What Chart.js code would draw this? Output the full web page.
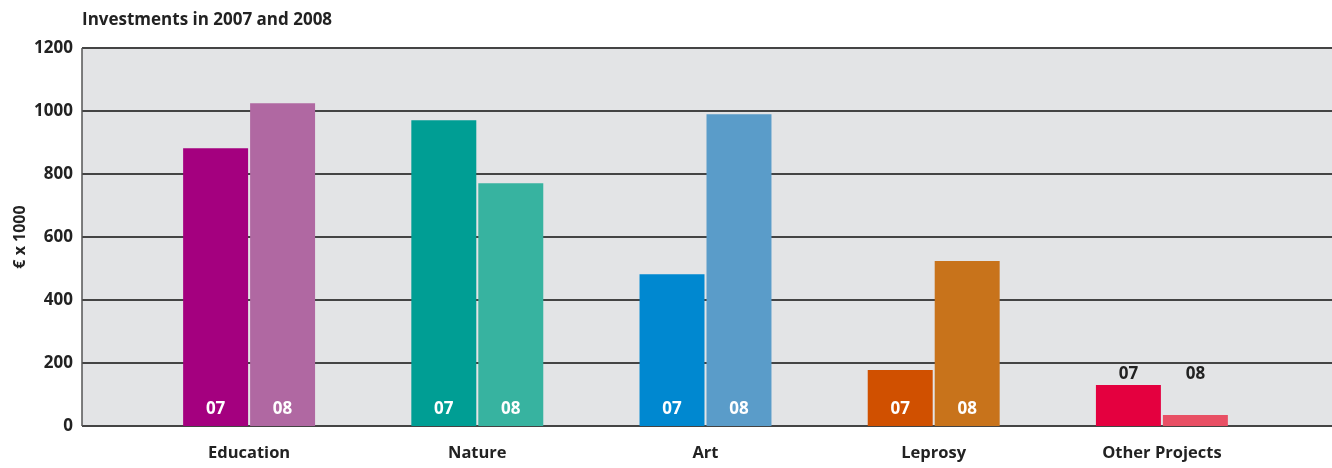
<!DOCTYPE html>
<html lang="en">
<head>
    <meta charset="UTF-8">
    <title>Investments in 2007 and 2008</title>
    <script src="https://cdn.jsdelivr.net/npm/chart.js"></script>
    <style>
        html, body { margin: 0; padding: 0; background: #fff; }
        #wrap { width: 1332px; height: 468px; }
    </style>
</head>
<body>
    <div id="wrap"><canvas id="investChart" width="1332" height="468"></canvas></div>

    <script>
        // --- data ---
        const categories = ['Education', 'Nature', 'Art', 'Leprosy', 'Other Projects'];
        const seriesTags = ['07', '08'];
        const values07 = [882, 971, 482, 178, 130];
        const values08 = [1025, 771, 990, 524, 35];
        const colors07 = ['#a4007f', '#009e94', '#0088d0', '#d05000', '#e4003f'];
        const colors08 = ['#b068a2', '#37b3a0', '#5a9cc9', '#c8731b', '#e84f64'];
        const yTicks = [0, 200, 400, 600, 800, 1000, 1200];

        const FONT = "'Open Sans', 'DejaVu Sans', sans-serif";
        const TEXT = '#222';
        const AXIS_X = 82; // where the grey panel and the axis line start

        // grey panel + grid lines, drawn wider than the chart area
        const panelPlugin = {
            id: 'panel',
            beforeDatasetsDraw(chart) {
                const { ctx, chartArea, scales } = chart;
                const y = scales.y;
                ctx.save();
                ctx.fillStyle = '#e3e4e6';
                ctx.fillRect(AXIS_X, chartArea.top, chart.width - AXIS_X, chartArea.bottom - chartArea.top);
                ctx.strokeStyle = '#444';
                ctx.lineWidth = 2;
                yTicks.forEach(v => {
                    const py = Math.round(y.getPixelForValue(v));
                    ctx.beginPath();
                    ctx.moveTo(AXIS_X, py);
                    ctx.lineTo(chart.width, py);
                    ctx.stroke();
                });
                ctx.lineWidth = 1.5;
                ctx.strokeStyle = '#555';
                ctx.beginPath();
                ctx.moveTo(AXIS_X, chartArea.top);
                ctx.lineTo(AXIS_X, chartArea.bottom);
                ctx.stroke();

                // title
                ctx.fillStyle = TEXT;
                ctx.font = `bold 17px ${FONT}`;
                ctx.textBaseline = 'alphabetic';
                ctx.textAlign = 'left';
                ctx.fillText('Investments in 2007 and 2008', AXIS_X, 25);
                ctx.restore();
            }
        };

        // "07" / "08" tags, inside the bars or above them when too short
        const tagPlugin = {
            id: 'tags',
            afterDatasetsDraw(chart) {
                const { ctx, scales } = chart;
                ctx.save();
                ctx.font = `bold 17px ${FONT}`;
                ctx.textAlign = 'center';
                ctx.textBaseline = 'middle';
                chart.data.datasets.forEach((ds, di) => {
                    const meta = chart.getDatasetMeta(di);
                    meta.data.forEach((bar, i) => {
                        const top = Math.max(values07[i], values08[i]);
                        if (top < 150) {
                            ctx.fillStyle = TEXT;
                            ctx.fillText(seriesTags[di], bar.x, scales.y.getPixelForValue(top) - 11);
                        } else {
                            ctx.fillStyle = '#fff';
                            ctx.fillText(seriesTags[di], bar.x, bar.base - 17);
                        }
                    });
                });
                ctx.restore();
            }
        };

        new Chart(document.getElementById('investChart'), {
            type: 'bar',
            data: {
                labels: categories,
                datasets: [
                    { label: seriesTags[0], data: values07, backgroundColor: colors07 },
                    { label: seriesTags[1], data: values08, backgroundColor: colors08 }
                ]
            },
            options: {
                responsive: false,
                animation: false,
                events: [],
                layout: { padding: { top: 48, right: 56, left: 0, bottom: 0 } },
                datasets: {
                    bar: { categoryPercentage: 0.587, barPercentage: 0.97, borderWidth: 0 }
                },
                plugins: {
                    legend: { display: false },
                    tooltip: { enabled: false }
                },
                scales: {
                    x: {
                        grid: { display: false, drawTicks: false },
                        border: { display: false },
                        ticks: { color: TEXT, font: { family: FONT, size: 16.5, weight: 'bold' }, padding: 17 },
                        afterFit(scale) { scale.height = 42; }
                    },
                    y: {
                        min: 0,
                        max: 1200,
                        grid: { display: false, drawTicks: false },
                        border: { display: false },
                        afterBuildTicks(scale) { scale.ticks = yTicks.map(v => ({ value: v })); },
                        ticks: {
                            color: TEXT,
                            font: { family: FONT, size: 17, weight: 'bold' },
                            padding: 62,
                            callback: v => String(v)
                        },
                        title: {
                            display: true,
                            text: '€ x 1000',
                            color: TEXT,
                            font: { family: FONT, size: 16, weight: 'bold' },
                            padding: { top: 11, bottom: 0 }
                        },
                        afterFit(scale) {
                            scale.width = 135;
                            // the big tick padding must not push the plot down
                            scale.paddingTop = 0;
                            scale.paddingBottom = 0;
                        }
                    }
                }
            },
            plugins: [panelPlugin, tagPlugin]
        });
    </script>
</body>
</html>
